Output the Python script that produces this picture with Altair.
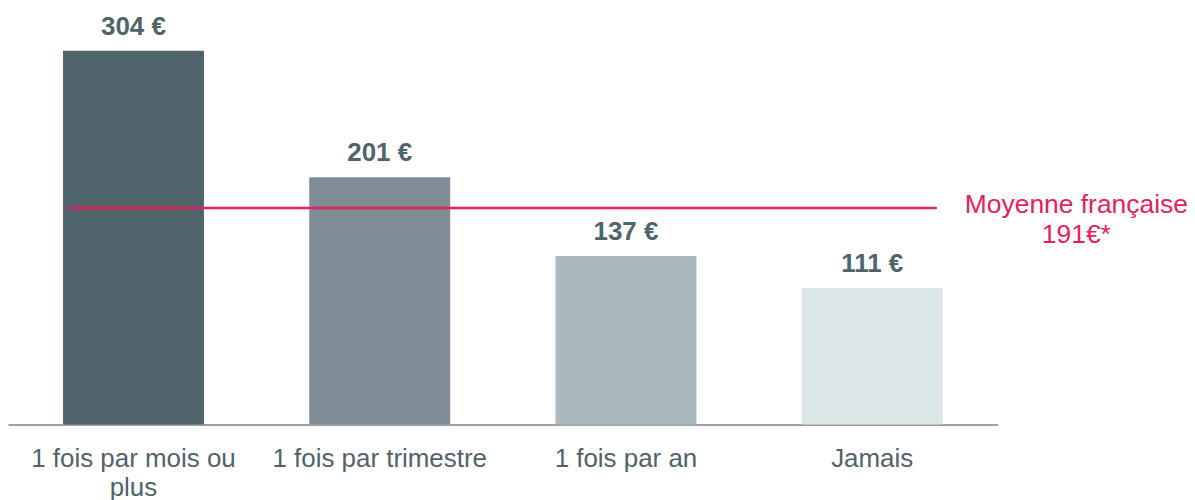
import altair as alt
import pandas as pd

categories = ["1 fois par mois ou plus", "1 fois par trimestre", "1 fois par an", "Jamais"]
values = [304, 201, 137, 111]
value_labels = ["304 €", "201 €", "137 €", "111 €"]
bar_colors = ["#4f636b", "#7f8c96", "#aab9be", "#dce6e7"]
avg_label = "Moyenne française\n191€*"
avg_line_value = 176  # position of the average line

df = pd.DataFrame({"cat": categories, "value": values, "label": value_labels})
avg_df = pd.DataFrame({"avg": [avg_line_value], "text": [avg_label]})

text_color = "#4f636b"
red = "#e6215b"

x_enc = alt.X(
    "cat:N",
    sort=categories,
    title=None,
    scale=alt.Scale(paddingInner=0.4275, paddingOuter=0.2233),
    axis=alt.Axis(
        labelAngle=0,
        ticks=False,
        labelFontSize=26,
        labelFont="Liberation Sans",
        labelColor=text_color,
        labelPadding=21,
        labelLineHeight=29,
        labelLimit=400,
        domainColor="#a0a0a0",
        domainWidth=2,
        labelExpr="datum.label == '1 fois par mois ou plus' ? ['1 fois par mois ou', 'plus'] : datum.label",
    ),
)
y_scale = alt.Scale(domain=[0, 338], nice=False)

bars = alt.Chart(df).mark_bar().encode(
    x=x_enc,
    y=alt.Y("value:Q", scale=y_scale, axis=None),
    color=alt.Color("cat:N", sort=categories, scale=alt.Scale(domain=categories, range=bar_colors), legend=None),
)

labels = alt.Chart(df).mark_text(
    font="Liberation Sans", fontSize=26, fontWeight="bold", color=text_color, baseline="alphabetic", dy=-16
).encode(
    x=alt.X("cat:N", sort=categories),
    y=alt.Y("value:Q", scale=y_scale),
    text="label:N",
)

rule = alt.Chart(avg_df).mark_rule(color=red, strokeWidth=2.5).encode(
    y=alt.Y("avg:Q", scale=y_scale),
    x=alt.value(59),
    x2=alt.value(932),
)

avg_text = alt.Chart(avg_df).mark_text(
    font="Liberation Sans", fontSize=26.5, color=red, align="center", baseline="alphabetic",
    lineBreak="\n", lineHeight=30, dy=5
).encode(
    y=alt.Y("avg:Q", scale=y_scale),
    x=alt.value(1072),
    text="text:N",
)

chart = alt.layer(bars, labels, rule, avg_text).properties(
    width=993, height=417,
    padding={"left": 0, "top": 0, "right": 190, "bottom": 84},
    autosize=alt.AutoSizeParams(type="none"),
    background="white",
).configure_view(stroke=None)

chart.save("out.html", embed_options={"renderer": "svg", "actions": False})
